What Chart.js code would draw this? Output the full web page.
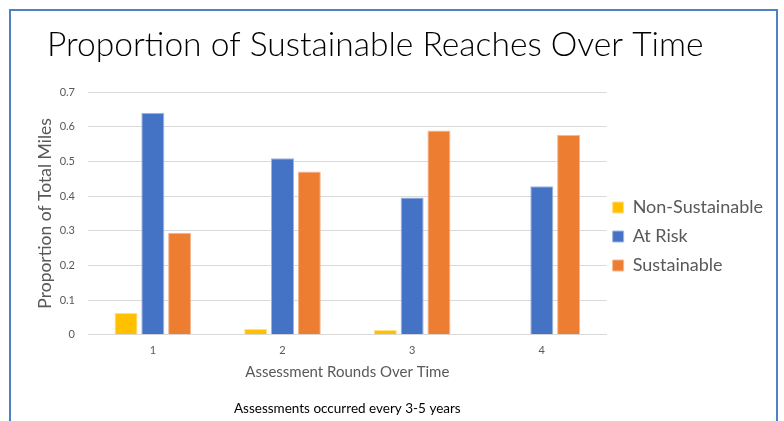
<!DOCTYPE html>
<html>
<head>
<meta charset="utf-8">
<script src="https://cdn.jsdelivr.net/npm/chart.js@4.4.0/dist/chart.umd.min.js"></script>
<style>
  html, body { margin: 0; padding: 0; background: #fff; }
  #wrap { width: 784px; height: 421px; position: relative; }
</style>
</head>
<body>
<div id="wrap"><canvas id="chart" width="784" height="421"></canvas></div>
<script>
// datos
var rondas = ["1", "2", "3", "4"];
var noSostenible = [0.063, 0.017, 0.014, 0];
var enRiesgo = [0.64, 0.509, 0.396, 0.428];
var sostenible = [0.294, 0.471, 0.589, 0.576];
var ticksY = [0, 0.1, 0.2, 0.3, 0.4, 0.5, 0.6, 0.7];

var titulo = 'Proportion of Sustainable Reaches Over Time';
var nota = 'Assessments occurred every 3-5 years';

var fuente = "Lato, 'Open Sans', sans-serif";

// marco azul, fondo blanco, titulo y nota al pie
var marco = {
    id: 'marco',
    beforeDraw: function(chart) {
        var ctx = chart.ctx;
        ctx.save();
        ctx.fillStyle = '#ffffff';
        ctx.fillRect(0, 0, chart.width, chart.height);
        ctx.strokeStyle = '#4f81c7';
        ctx.lineWidth = 2;
        ctx.strokeRect(10, 10, 767, 430);
        ctx.restore();
    },
    afterDraw: function(chart) {
        var ctx = chart.ctx;
        var area = chart.chartArea;
        ctx.save();
        ctx.fillStyle = '#000000';
        ctx.textBaseline = 'alphabetic';
        ctx.textAlign = 'left';
        ctx.font = '300 33.6px ' + fuente;
        ctx.fillText(titulo, 47, 56);
        ctx.textAlign = 'center';
        ctx.textBaseline = 'middle';
        ctx.font = '13.5px ' + fuente;
        ctx.fillText(nota, (area.left + area.right) / 2, 409);
        ctx.restore();
    }
};

// mover la leyenda un poco (como en el original)
var moverLeyenda = {
    id: 'moverLeyenda',
    afterLayout: function(chart) {
        var l = chart.legend;
        l.left -= 5; l.right -= 5;
    }
};

var ctx = document.getElementById('chart').getContext('2d');
var grafico = new Chart(ctx, {
    type: 'bar',
    data: {
        labels: rondas,
        datasets: [{
            label: 'Non-Sustainable',
            data: noSostenible,
            backgroundColor: '#FFC000',
            borderColor: '#ffe08a',
            borderWidth: 1
        }, {
            label: 'At Risk',
            data: enRiesgo,
            backgroundColor: '#4472C4',
            borderColor: '#9fb6e0',
            borderWidth: 1
        }, {
            label: 'Sustainable',
            data: sostenible,
            backgroundColor: '#ED7D31',
            borderColor: '#f6b890',
            borderWidth: 1
        }]
    },
    options: {
        responsive: false,
        animation: false,
        categoryPercentage: 0.62,
        barPercentage: 0.86,
        layout: {
            padding: { left: 31, right: 6, top: 92, bottom: 40 }
        },
        plugins: {
            title: { display: false },
            legend: {
                position: 'right',
                labels: {
                    boxWidth: 11,
                    boxHeight: 11,
                    padding: 11,
                    color: '#595959',
                    font: { family: fuente, size: 18 }
                }
            },
            tooltip: { enabled: false }
        },
        scales: {
            x: {
                grid: { display: false },
                border: { color: '#d9d9d9' },
                ticks: { color: '#595959', padding: 1, font: { family: fuente, size: 11 } },
                title: {
                    display: true,
                    text: 'Assessment Rounds Over Time',
                    color: '#595959',
                    font: { family: fuente, size: 15 },
                    padding: { top: 5, bottom: 0 }
                }
            },
            y: {
                min: 0,
                max: 0.7,
                afterBuildTicks: function(axis) {
                    axis.ticks = ticksY.map(function(v) { return { value: v }; });
                },
                afterFit: function(axis) {
                    axis.width = 57;
                },
                grid: { color: '#d9d9d9', drawTicks: false },
                border: { display: false },
                ticks: {
                    color: '#595959',
                    padding: 13,
                    font: { family: fuente, size: 11 },
                    callback: function(v) { return String(v); }
                },
                title: {
                    display: true,
                    text: 'Proportion of Total Miles',
                    color: '#595959',
                    font: { family: fuente, size: 17.5 }
                }
            }
        }
    },
    plugins: [marco, moverLeyenda]
});
</script>
</body>
</html>
